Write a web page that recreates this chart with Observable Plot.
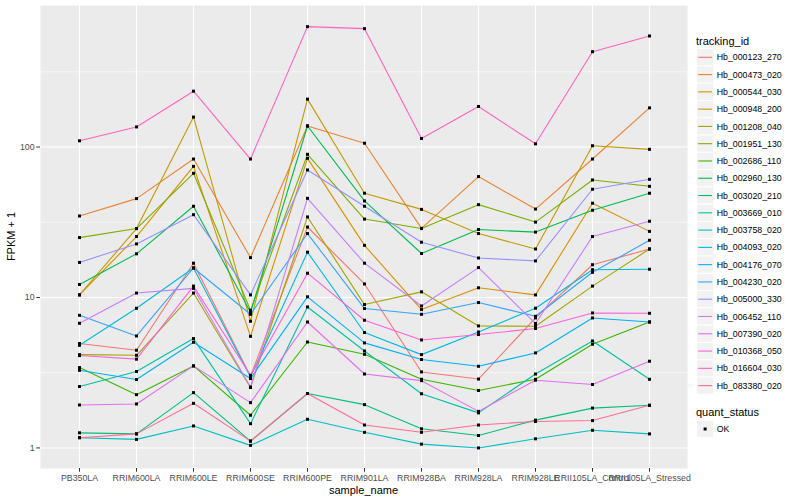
<!DOCTYPE html>
<html><head><meta charset="utf-8">
<script src="https://cdn.jsdelivr.net/npm/d3@7"></script>
<script src="https://cdn.jsdelivr.net/npm/@observablehq/plot@0.6"></script>
<style>
body{margin:0;background:#fff;}
#wrap{position:relative;width:800px;height:500px;font-family:"Liberation Sans",Arial,Helvetica,sans-serif;background:#fff;}
#chart{position:absolute;left:0;top:0;}
#legend{position:absolute;left:690px;top:0;width:110px;height:500px;}
</style></head><body>
<div id="wrap"><div id="chart"></div><div id="legend"></div></div>
<script>
const samples = ["PB350LA","RRIM600LA","RRIM600LE","RRIM600SE","RRIM600PE","RRIM901LA","RRIM928BA","RRIM928LA","RRIM928LE","RRII105LA_Control","RRII105LA_Stressed"];
const trackingIds = ["Hb_000123_270","Hb_000473_020","Hb_000544_030","Hb_000948_200","Hb_001208_040","Hb_001951_130","Hb_002686_110","Hb_002960_130","Hb_003020_210","Hb_003669_010","Hb_003758_020","Hb_004093_020","Hb_004176_070","Hb_004230_020","Hb_005000_330","Hb_006452_110","Hb_007390_020","Hb_010368_050","Hb_016604_030","Hb_083380_020"];

// FPKM + 1 per sample (same order as samples)
const Hb_000123_270 = [4.94, 4.46, 16.9, 3.0, 29.4, 12.3, 3.2, 2.87, 7.31, 16.5, 21.0];
const Hb_000473_020 = [34.8, 45.4, 83.2, 18.4, 138, 106, 28.8, 63.6, 38.7, 83.2, 182];
const Hb_000544_030 = [10.4, 25.4, 74.4, 5.52, 84.1, 22.2, 8.31, 11.6, 10.4, 42.3, 27.5];
const Hb_000948_200 = [10.4, 28.7, 158, 6.95, 208, 49.3, 38.5, 26.6, 21.0, 102, 96.5];
const Hb_001208_040 = [4.17, 4.13, 10.7, 2.52, 34.3, 8.97, 10.9, 6.47, 6.44, 11.9, 21.0];
const Hb_001951_130 = [25.0, 28.7, 66.9, 8.22, 89.4, 33.2, 28.7, 41.4, 31.7, 60.4, 54.8];
const Hb_002686_110 = [3.42, 2.26, 3.51, 1.65, 5.06, 4.19, 2.86, 2.41, 2.86, 4.89, 6.87];
const Hb_002960_130 = [12.2, 19.5, 40.4, 7.97, 138, 43.8, 19.6, 28.3, 27.2, 38.0, 49.3];
const Hb_003020_210 = [1.26, 1.24, 2.33, 1.11, 2.30, 1.94, 1.34, 1.21, 1.53, 1.84, 1.92];
const Hb_003669_010 = [2.56, 3.22, 5.33, 1.45, 8.65, 4.41, 2.29, 1.71, 3.10, 5.14, 2.86];
const Hb_003758_020 = [1.17, 1.14, 1.40, 1.04, 1.55, 1.27, 1.06, 1.00, 1.15, 1.31, 1.24];
const Hb_004093_020 = [4.81, 8.48, 15.7, 2.96, 20.0, 5.85, 4.17, 5.90, 8.48, 15.3, 15.4];
const Hb_004176_070 = [3.28, 2.85, 5.04, 2.89, 10.1, 4.99, 3.87, 3.49, 4.28, 7.31, 6.87];
const Hb_004230_020 = [7.61, 5.55, 15.7, 7.73, 26.6, 8.44, 7.73, 9.25, 7.50, 14.7, 24.0];
const Hb_005000_330 = [17.1, 22.7, 35.5, 10.4, 70.4, 40.4, 23.3, 18.3, 17.5, 52.4, 61.0];
const Hb_006452_110 = [6.74, 10.7, 11.5, 2.54, 45.6, 16.9, 8.78, 15.8, 6.71, 25.4, 32.1];
const Hb_007390_020 = [1.93, 1.96, 3.51, 2.00, 6.87, 3.10, 2.80, 1.75, 2.82, 2.64, 3.77];
const Hb_010368_050 = [4.11, 3.89, 11.9, 3.04, 14.5, 7.06, 5.22, 5.67, 6.22, 7.89, 7.85];
const Hb_016604_030 = [110, 136, 235, 83.2, 631, 612, 114, 186, 105, 430, 547];
const Hb_083380_020 = [1.17, 1.24, 1.98, 1.11, 2.30, 1.42, 1.27, 1.42, 1.50, 1.52, 1.92];

const majorTicks = [1, 10, 100];
const minorTicks = [Math.sqrt(10), Math.sqrt(1000), Math.sqrt(100000)];
const quantStatus = ["OK"];

const seriesValues = [Hb_000123_270, Hb_000473_020, Hb_000544_030, Hb_000948_200, Hb_001208_040, Hb_001951_130, Hb_002686_110, Hb_002960_130, Hb_003020_210, Hb_003669_010, Hb_003758_020, Hb_004093_020, Hb_004176_070, Hb_004230_020, Hb_005000_330, Hb_006452_110, Hb_007390_020, Hb_010368_050, Hb_016604_030, Hb_083380_020];
const hueColors = ["#F8766D","#EA8331","#D89000","#C09B00","#A3A500","#7CAE00","#39B600","#00BB4E","#00BF7D","#00C1A3","#00BFC4","#00BAE0","#00B0F6","#35A2FF","#9590FF","#C77CFF","#E76BF3","#FA62DB","#FF62BC","#FF6C91"];

const rows = [];
trackingIds.forEach((id, i) => seriesValues[i].forEach((v, j) => rows.push({tracking_id: id, sample_name: samples[j], fpkm1: v, quant_status: "OK"})));

const font = '"Liberation Sans",Arial,Helvetica,sans-serif';
const plot = Plot.plot({
  width: 690, height: 500,
  marginLeft: 40, marginRight: 3, marginTop: 5, marginBottom: 32,
  style: {fontFamily: font, fontSize: "8.8px", background: "white", overflow: "visible"},
  x: {type: "point", domain: samples, padding: 0.6, axis: null},
  y: {type: "log", domain: [0.73, 872], axis: null},
  color: {domain: trackingIds, range: hueColors},
  marks: [
    Plot.frame({fill: "#EBEBEB", stroke: null}),
    Plot.ruleY(minorTicks, {stroke: "white", strokeWidth: 0.55}),
    Plot.ruleY(majorTicks, {stroke: "white", strokeWidth: 1.1}),
    Plot.ruleX(samples, {stroke: "white", strokeWidth: 1.1}),
    Plot.line(rows, {x: "sample_name", y: "fpkm1", z: "tracking_id", stroke: "tracking_id", strokeWidth: 1.1}),
    Plot.dot(rows, {x: "sample_name", y: "fpkm1", symbol: "square", r: 1.7, fill: "black", stroke: null}),
    Plot.axisX(samples, {tickSize: 3.7, tickPadding: 2.5, color: "#4D4D4D", stroke: "#333", fontSize: 8.8, label: null}),
    Plot.axisY(majorTicks, {tickSize: 3.7, tickPadding: 2.2, color: "#4D4D4D", stroke: "#333", fontSize: 8.8, tickFormat: d => String(d), label: null})
  ]
});
document.getElementById("chart").appendChild(plot);

const svg = d3.select(plot);
svg.append("text").attr("x", 363.5).attr("y", 494).attr("text-anchor", "middle")
  .attr("font-size", 11).attr("fill", "black").attr("font-family", font).text("sample_name");
svg.append("text").attr("transform", "translate(15,236.5) rotate(-90)").attr("text-anchor", "middle")
  .attr("font-size", 11).attr("fill", "black").attr("font-family", font).text("FPKM + 1");

// legend
const lg = d3.select("#legend").append("svg").attr("width", 110).attr("height", 500)
  .attr("font-family", font);
lg.append("text").attr("x", 6).attr("y", 44.5).attr("font-size", 11).attr("fill", "black").text("tracking_id");
const step = 17.28, y0 = 57.3;
trackingIds.forEach((id, i) => {
  const cy = y0 + i * step;
  lg.append("rect").attr("x", 6.5).attr("y", cy - step / 2).attr("width", step).attr("height", step)
    .attr("fill", "#F2F2F2").attr("stroke", "white").attr("stroke-width", 1);
  lg.append("line").attr("x1", 8.2).attr("x2", 22.1).attr("y1", cy).attr("y2", cy)
    .attr("stroke", hueColors[i]).attr("stroke-width", 1.1);
  lg.append("text").attr("x", 26.7).attr("y", cy + 3.1).attr("font-size", 8.8).attr("fill", "black").text(id);
});
lg.append("text").attr("x", 6).attr("y", 416.2).attr("font-size", 11).attr("fill", "black").text("quant_status");
quantStatus.forEach((q, i) => {
  const cy = 429 + i * step;
  lg.append("rect").attr("x", 6.5).attr("y", cy - step / 2).attr("width", step).attr("height", step)
    .attr("fill", "#F2F2F2").attr("stroke", "white").attr("stroke-width", 1);
  lg.append("rect").attr("x", 15.15 - 1.5).attr("y", cy - 1.5).attr("width", 3).attr("height", 3).attr("fill", "black");
  lg.append("text").attr("x", 26.7).attr("y", cy + 3.1).attr("font-size", 8.8).attr("fill", "black").text(q);
});
</script>
</body></html>
